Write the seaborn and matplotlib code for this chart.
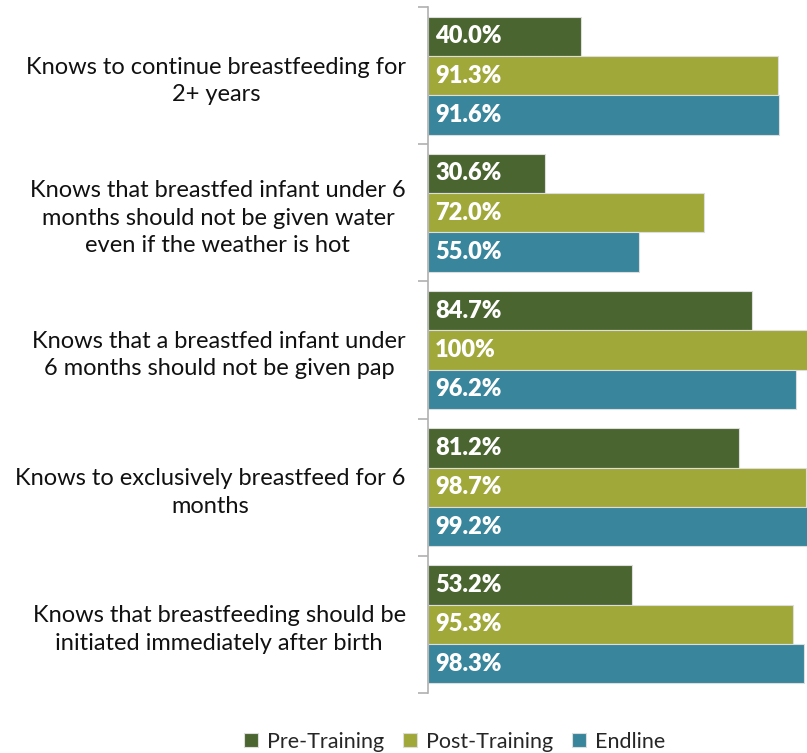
import pandas as pd
import seaborn as sns
import matplotlib.pyplot as plt
from matplotlib.transforms import ScaledTranslation

# data
questions = [
    'Knows to continue breastfeeding for\n2+ years',
    'Knows that breastfed infant under 6\nmonths should not be given water\neven if the weather is hot',
    'Knows that a breastfed infant under\n6 months should not be given pap',
    'Knows to exclusively breastfeed for 6\nmonths',
    'Knows that breastfeeding should be\ninitiated immediately after birth',
]
phases = ['Pre-Training', 'Post-Training', 'Endline']
pre_training = [40.0, 30.6, 84.7, 81.2, 53.2]
post_training = [91.3, 72.0, 100, 98.7, 95.3]
endline = [91.6, 55.0, 96.2, 99.2, 98.3]
value_labels = [
    ['40.0%', '30.6%', '84.7%', '81.2%', '53.2%'],
    ['91.3%', '72.0%', '100%', '98.7%', '95.3%'],
    ['91.6%', '55.0%', '96.2%', '99.2%', '98.3%'],
]
colors = ['#4A6530', '#A1A83A', '#38859C']

rows = []
for phase, vals in zip(phases, [pre_training, post_training, endline]):
    for q, v in zip(questions, vals):
        rows.append({'question': q, 'phase': phase, 'pct': v})
df = pd.DataFrame(rows)

sns.set_style('white')
plt.rcParams['font.family'] = ['Lato', 'DejaVu Sans']

fig = plt.figure(figsize=(8.07, 7.53), dpi=100)
ax = fig.add_axes([428 / 807, 1 - 693 / 753, 383 / 807, 686 / 753])

sns.barplot(data=df, y='question', x='pct', hue='phase', order=questions,
            hue_order=phases, palette=colors, orient='h', width=0.86,
            edgecolor='#dddddd', linewidth=0.8, saturation=1, ax=ax)

# value labels at the start of each bar
for cont, labs in zip(ax.containers, value_labels):
    for bar, lab in zip(cont, labs):
        ax.text(1.9, bar.get_y() + bar.get_height() / 2, lab, color='white',
                fontsize=17, fontweight='heavy', ha='left', va='center')

ax.set_xlim(0, 100)
ax.set_ylim(len(questions) - 0.5, -0.5)
ax.set_xlabel('')
ax.set_ylabel('')
ax.set_xticks([])
ax.set_yticks([i - 0.5 for i in range(len(questions) + 1)], minor=False)
ax.set_yticklabels([])
ax.tick_params(axis='y', which='major', length=7, width=1.2, color='#b0b0b0', left=True)
ax.set_yticks(range(len(questions)), minor=True)
ax.set_yticklabels(questions, minor=True, fontsize=17, multialignment='center',
                   color='#111111', linespacing=1.38)
ax.tick_params(axis='y', which='minor', length=0, pad=16)

for side in ['top', 'right', 'bottom']:
    ax.spines[side].set_visible(False)
ax.spines['left'].set_color('#b0b0b0')
ax.spines['left'].set_linewidth(1.2)

# centre the wrapped labels, keeping their right edge by the axis
for lab in ax.get_yticklabels(minor=True):
    lab.set_horizontalalignment('center')
fig.canvas.draw()
r = fig.canvas.get_renderer()
for lab in ax.get_yticklabels(minor=True):
    bb = lab.get_window_extent(r)
    dx = -(bb.width / 2) / fig.dpi
    lab.set_transform(lab.get_transform() + ScaledTranslation(dx, 0, fig.dpi_scale_trans))

ax.legend(handles=ax.get_legend_handles_labels()[0], labels=phases,
          loc='upper center', bbox_to_anchor=(0.07, -0.028), ncol=3,
          frameon=False, fontsize=15.5, handlelength=0.65, handleheight=0.65,
          handletextpad=0.4, columnspacing=0.9)

fig.savefig('out.png', dpi=100)
